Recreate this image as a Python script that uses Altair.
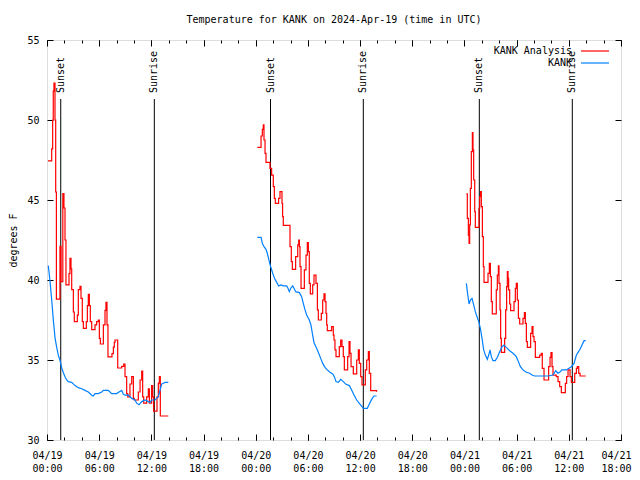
import altair as alt
import pandas as pd

# ---- data: (hours since 2024-04-19 00:00 UTC, temperature F) ----
RED_1 = [(0.11, 47.45), (0.54, 48.2), (0.65, 50.0), (0.72, 51.8), (0.80, 52.3), (0.92, 50.0),
         (1.00, 45.5), (1.08, 38.8), (1.49, 42.1), (1.61, 39.9), (1.82, 45.4), (1.95, 44.5),
         (2.07, 42.5), (2.18, 39.7), (2.53, 40.4), (2.64, 41.35), (2.76, 40.7), (2.84, 39.4),
         (3.03, 38.0), (3.14, 37.4), (3.49, 37.8), (3.60, 39.4), (3.79, 39.6), (3.91, 38.85),
         (4.06, 37.4), (4.18, 36.98), (4.52, 37.4), (4.64, 38.4), (4.75, 39.1), (4.87, 38.4),
         (4.98, 37.4), (5.14, 36.9), (5.52, 37.2), (5.71, 37.4), (5.90, 37.5), (6.02, 36.35),
         (6.13, 36.0), (6.48, 37.2), (6.67, 38.1), (6.78, 38.6), (6.90, 37.2), (7.01, 35.2),
         (7.47, 35.4), (7.63, 35.8), (7.74, 36.1), (7.82, 36.25), (8.13, 34.5), (8.59, 34.6),
         (8.82, 34.75), (8.97, 33.96), (9.16, 32.9), (9.28, 32.7), (9.54, 33.5), (9.74, 33.96),
         (9.93, 32.6), (10.04, 32.5), (10.50, 33.0), (10.70, 33.75), (10.89, 34.3), (11.00, 32.7),
         (11.12, 32.3), (11.46, 32.7), (11.65, 33.2), (11.77, 32.3), (12.03, 33.4), (12.15, 32.7),
         (12.26, 31.8), (12.65, 32.7), (12.80, 33.55), (12.92, 33.96), (13.03, 31.5), (13.95, 31.5)]
RED_2 = [(24.18, 48.29), (24.61, 49.0), (24.76, 49.42), (24.87, 49.69), (24.95, 48.75), (25.07, 47.92),
         (25.18, 47.35), (25.64, 46.98), (25.83, 46.56), (26.02, 45.83), (26.14, 45.1), (26.25, 44.79),
         (26.63, 45.1), (26.79, 45.52), (27.02, 44.79), (27.09, 43.96), (27.17, 43.42), (27.94, 42.08),
         (28.09, 41.15), (28.21, 40.67), (28.59, 41.46), (28.83, 42.19), (28.94, 42.5), (29.02, 42.08),
         (29.09, 40.83), (29.21, 39.48), (29.59, 40.63), (29.78, 41.56), (29.93, 42.33), (30.05, 41.77),
         (30.16, 39.79), (30.28, 39.13), (30.55, 39.69), (30.70, 40.31), (30.93, 39.79), (31.09, 38.13),
         (31.20, 37.5), (31.54, 37.92), (31.70, 38.75), (31.85, 39.13), (31.97, 38.65), (32.08, 37.92),
         (32.16, 37.19), (32.23, 36.83), (32.73, 37.08), (32.92, 36.56), (33.00, 36.25), (33.11, 35.63),
         (33.23, 35.21), (33.61, 35.83), (33.77, 36.25), (33.92, 35.83), (34.07, 35.21), (34.19, 34.38),
         (34.57, 35.21), (34.73, 36.15), (34.84, 35.42), (34.96, 34.58), (35.22, 34.13), (35.61, 35.0),
         (35.80, 35.63), (35.91, 34.79), (36.07, 33.96), (36.22, 33.44), (36.60, 34.38), (36.76, 35.0),
         (36.95, 35.52), (37.06, 34.17), (37.22, 33.08), (37.90, 33.02)]
RED_3 = [(48.22, 45.38), (48.33, 43.85), (48.45, 42.81), (48.53, 42.29), (48.60, 43.44), (48.68, 45.73),
         (48.79, 48.02), (48.91, 49.21), (48.98, 48.13), (49.06, 46.25), (49.18, 44.27), (49.25, 43.29),
         (49.67, 44.48), (49.75, 45.21), (49.86, 45.52), (49.94, 44.58), (50.06, 42.71), (50.17, 40.83),
         (50.25, 39.85), (50.71, 40.42), (50.86, 41.04), (50.98, 40.21), (51.09, 38.65), (51.20, 37.88),
         (51.66, 39.38), (51.78, 40.31), (51.90, 40.88), (51.97, 39.79), (52.09, 38.13), (52.16, 36.35),
         (52.24, 35.48), (52.62, 36.35), (52.74, 38.13), (52.85, 39.58), (52.93, 40.52), (53.01, 40.1),
         (53.08, 39.38), (53.20, 38.5), (53.31, 38.08), (53.70, 38.65), (53.85, 39.48), (53.96, 39.79),
         (54.08, 38.75), (54.20, 37.6), (54.35, 37.25), (54.73, 37.6), (54.89, 37.96), (55.00, 37.29),
         (55.12, 36.15), (55.23, 35.79), (55.61, 36.67), (55.77, 37.08), (55.88, 36.46), (56.00, 36.15),
         (56.15, 35.17), (56.65, 35.31), (56.84, 35.42), (56.95, 34.48), (57.15, 33.75), (57.68, 34.58),
         (57.84, 35.17), (57.95, 35.46), (58.07, 34.58), (58.18, 34.06), (58.56, 33.96), (58.76, 33.65),
         (58.95, 33.33), (59.14, 32.96), (59.60, 33.54), (59.75, 33.96), (59.91, 34.38), (60.14, 33.96),
         (60.29, 33.6), (60.68, 34.17), (60.87, 34.48), (60.98, 34.58), (61.14, 34.17), (61.29, 34.0),
         (61.94, 34.0)]
BLUE_1 = [(0.15, 40.9), (0.23, 40.5), (0.35, 39.9), (0.54, 38.75), (0.73, 37.5), (0.92, 36.4),
          (1.11, 35.8), (1.30, 35.3), (1.49, 35.0), (1.69, 34.5), (1.88, 34.2), (2.07, 33.96),
          (2.26, 33.75), (2.45, 33.65), (2.84, 33.6), (3.22, 33.4), (3.60, 33.27), (3.99, 33.2),
          (4.37, 33.1), (4.75, 33.0), (5.14, 32.8), (5.33, 32.75), (5.52, 32.9), (5.90, 32.9),
          (6.29, 33.0), (6.48, 33.1), (6.67, 33.1), (7.05, 33.1), (7.43, 32.9), (8.01, 32.9),
          (8.28, 33.0), (8.59, 33.1), (8.78, 32.85), (8.97, 32.8), (9.35, 32.8), (9.54, 32.7),
          (9.74, 32.6), (10.12, 32.5), (10.31, 32.3), (10.58, 32.2), (10.89, 32.4), (11.27, 32.5),
          (11.65, 32.4), (11.84, 32.35), (12.03, 32.5), (12.42, 32.5), (12.80, 32.7), (12.99, 33.1),
          (13.19, 33.5), (13.38, 33.55), (13.57, 33.6), (13.95, 33.6)]
BLUE_2 = [(24.18, 42.67), (24.61, 42.67), (24.76, 42.29), (24.95, 42.08), (25.18, 41.92), (25.33, 41.67),
          (25.56, 41.15), (25.72, 40.83), (25.95, 40.42), (26.21, 40.04), (26.48, 39.79), (26.63, 39.63),
          (26.86, 39.69), (27.17, 39.63), (27.56, 39.63), (27.71, 39.48), (27.86, 39.27), (28.02, 39.48),
          (28.25, 39.63), (28.40, 39.48), (28.59, 39.27), (29.02, 39.21), (29.28, 38.96), (29.47, 38.54),
          (29.67, 38.13), (29.86, 37.81), (30.16, 37.5), (30.35, 37.19), (30.51, 36.67), (30.70, 36.08),
          (31.00, 35.73), (31.24, 35.42), (31.47, 35.1), (31.70, 34.79), (31.97, 34.54), (32.23, 34.38),
          (32.54, 34.23), (32.85, 34.13), (33.04, 33.96), (33.23, 33.65), (33.50, 33.6), (33.77, 33.79),
          (34.07, 33.65), (34.38, 33.48), (34.76, 33.4), (35.03, 33.13), (35.30, 32.81), (35.61, 32.5),
          (35.91, 32.29), (36.22, 32.08), (36.37, 31.98), (36.83, 31.98), (37.06, 32.25), (37.33, 32.54),
          (37.60, 32.75), (37.90, 32.75)]
BLUE_3 = [(48.22, 39.79), (48.33, 39.27), (48.53, 38.5), (48.68, 38.75), (48.87, 38.85), (49.06, 38.44),
          (49.25, 38.02), (49.44, 37.71), (49.64, 37.4), (49.83, 36.98), (50.02, 36.35), (50.21, 35.63),
          (50.40, 35.31), (50.63, 35.04), (50.79, 35.31), (50.94, 35.63), (51.09, 35.21), (51.28, 34.96),
          (51.55, 34.96), (51.78, 35.17), (52.05, 35.52), (52.32, 35.83), (52.55, 35.94), (52.81, 35.79),
          (53.20, 35.58), (53.58, 35.42), (53.96, 35.21), (54.16, 34.96), (54.43, 34.58), (54.73, 34.38),
          (55.12, 34.23), (55.50, 34.17), (55.77, 34.06), (56.07, 34.0), (57.61, 34.0), (58.18, 34.06),
          (58.49, 34.33), (58.76, 34.17), (58.95, 34.23), (59.21, 34.38), (59.71, 34.38), (60.02, 34.48),
          (60.29, 34.58), (60.60, 34.79), (60.87, 35.31), (61.06, 35.48), (61.29, 35.67), (61.52, 35.94),
          (61.75, 36.21), (61.94, 36.21)]

SUN_HOURS = [1.58, 12.34, 25.70, 36.37, 49.71, 60.40]
SUN_LABELS = ["Sunset", "Sunrise", "Sunset", "Sunrise", "Sunset", "Sunrise"]

SERIES = ["KANK Analysis", "KANK"]
COLORS = ["#ff0000", "#0080ff"]
X_MAJOR = list(range(0, 67, 6))
X_MINOR = list(range(0, 67, 2))
Y_TICKS = [30, 35, 40, 45, 50, 55]

FONT = "DejaVu Sans Mono"

rows = []
for name, segs in [(SERIES[0], [RED_1, RED_2, RED_3]), (SERIES[1], [BLUE_1, BLUE_2, BLUE_3])]:
    for i, seg in enumerate(segs):
        for h, v in seg:
            rows.append({"hour": h, "temp": v, "series": name, "seg": i})
df = pd.DataFrame(rows)
sun = pd.DataFrame({"hour": SUN_HOURS, "label": SUN_LABELS})

xs = alt.Scale(domain=[0, 66], nice=False, zero=False)
ys = alt.Scale(domain=[30, 55], nice=False, zero=False)
cs = alt.Scale(domain=SERIES, range=COLORS)

common = dict(domain=False, grid=False, tickColor="black", tickWidth=1, title=None)

ax_x_labels = alt.Axis(orient="bottom", values=X_MAJOR, tickSize=6, offset=-6, labelPadding=10,
                       labelExpr="['04/' + format(19 + floor(datum.value / 24), '02d'), format(datum.value % 24, '02d') + ':00']",
                       labelFont=FONT, labelFontSize=10, labelColor="black", labelLineHeight=13,
                       labelBaseline="top", labelFlush=False, labelOverlap=False,
                       labelOffset={"condition": {"test": "datum.value >= 66", "value": -5}, "value": 0},
                       **common)
ax_x_minor = alt.Axis(orient="bottom", values=X_MINOR, tickSize=3, offset=-3, labels=False, **common)
ax_x_top_major = alt.Axis(orient="top", values=X_MAJOR, tickSize=6, offset=-6, labels=False, **common)
ax_x_top_minor = alt.Axis(orient="top", values=X_MINOR, tickSize=3, offset=-3, labels=False, **common)

ax_y_left = alt.Axis(orient="left", values=Y_TICKS, tickSize=6, offset=-6, labelPadding=8,
                     labelFont=FONT, labelFontSize=10, labelColor="black",
                     labelFlush=False, labelOverlap=False,
                     domain=False, grid=False, tickColor="black", tickWidth=1,
                     title="degrees F", titleFont=FONT, titleFontSize=10, titleFontWeight="normal",
                     titleColor="black", titleAngle=270, titleX=-40, titleY=200,
                     titleAlign="center", titleBaseline="middle")
ax_y_right = alt.Axis(orient="right", values=Y_TICKS, tickSize=6, offset=-6, labels=False, **common)

legend = alt.Legend(orient="none", legendX=513, legendY=5, title=None, padding=0,
                    symbolType="M3,0H8.6", symbolSize=100, symbolStrokeWidth=1.2,
                    labelAlign="right", labelOffset=0, labelFont=FONT, labelFontSize=10,
                    labelColor="black", labelLimit=0, rowPadding=1)

rules = alt.Chart(sun).mark_rule(color="black", strokeWidth=1).encode(
    x=alt.X("hour:Q", scale=xs, axis=ax_x_top_major),
    y=alt.value(59), y2=alt.value(400))

labels = alt.Chart(sun).mark_text(angle=270, align="left", baseline="middle", font=FONT,
                                   fontSize=10, color="black").encode(
    x=alt.X("hour:Q", scale=xs, axis=ax_x_top_minor),
    y=alt.value(53), text="label:N")

red = alt.Chart(df).transform_filter(alt.datum.series == SERIES[0]).mark_line(
    interpolate="step-after", strokeWidth=1.2).encode(
    x=alt.X("hour:Q", scale=xs, axis=ax_x_labels),
    y=alt.Y("temp:Q", scale=ys, axis=ax_y_left),
    color=alt.Color("series:N", scale=cs, legend=legend),
    detail="seg:N")

blue = alt.Chart(df).transform_filter(alt.datum.series == SERIES[1]).mark_line(
    strokeWidth=1.2).encode(
    x=alt.X("hour:Q", scale=xs, axis=ax_x_minor),
    y=alt.Y("temp:Q", scale=ys, axis=ax_y_right),
    color=alt.Color("series:N", scale=cs, legend=legend),
    detail="seg:N")

chart = alt.layer(rules, labels, red, blue).resolve_axis(
    x="independent", y="independent"
).properties(
    width=574, height=400,
    autosize=alt.AutoSizeParams(type="none"),
    padding={"left": 39, "top": 32, "right": 11, "bottom": 32},
    title=alt.TitleParams("Temperature for KANK on 2024-Apr-19 (time in UTC)", font=FONT,
                          fontSize=10, fontWeight="normal", color="black", anchor="middle",
                          frame="group", baseline="bottom", offset=0),
).configure_view(stroke="black", strokeWidth=1).configure(background="white")

chart.save("out.html", embed_options={"renderer": "svg", "actions": False})
